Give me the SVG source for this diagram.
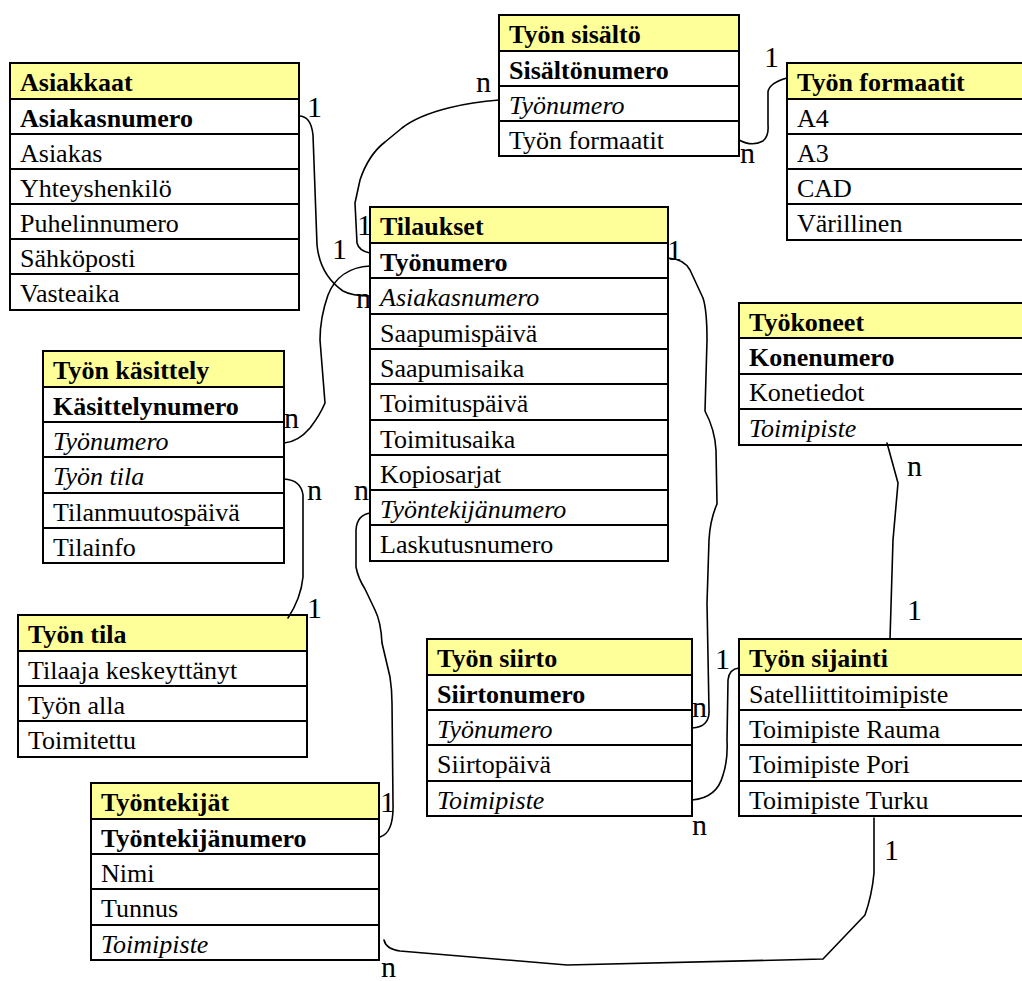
<svg xmlns="http://www.w3.org/2000/svg" width="1022" height="981" viewBox="0 0 1022 981" font-family="'Liberation Serif', Tinos, 'Times New Roman', 'DejaVu Serif', serif">
  <style>
    .hd { fill: #FFFF99; stroke: #000; stroke-width: 2; }
    .rw { fill: #fff; stroke: #000; stroke-width: 2; }
    text { font-family: 'Liberation Serif', Tinos, 'Times New Roman', 'DejaVu Serif', serif; font-size: 26px; fill: #000; }
    .b { font-weight: bold; }
    .i { font-style: italic; }
    .lbl { font-size: 30px; }
    .conn path { fill: none; stroke: #000; stroke-width: 1.6; stroke-linejoin: round; stroke-linecap: round; }
  </style>

  <!-- Asiakkaat -->
  <g id="asiakkaat">
    <rect class="hd" x="10" y="63" width="289" height="36"/>
    <rect class="rw" x="10" y="99" width="289" height="35"/>
    <rect class="rw" x="10" y="134" width="289" height="35"/>
    <rect class="rw" x="10" y="169" width="289" height="35"/>
    <rect class="rw" x="10" y="204" width="289" height="35"/>
    <rect class="rw" x="10" y="239" width="289" height="35"/>
    <rect class="rw" x="10" y="274" width="289" height="36"/>
    <text class="b" x="20" y="91">Asiakkaat</text>
    <text class="b" x="20" y="127">Asiakasnumero</text>
    <text x="20" y="162">Asiakas</text>
    <text x="20" y="197">Yhteyshenkilö</text>
    <text x="20" y="232">Puhelinnumero</text>
    <text x="20" y="267">Sähköposti</text>
    <text x="20" y="302">Vasteaika</text>
  </g>

  <!-- Työn sisältö -->
  <g id="tyon-sisalto">
    <rect class="hd" x="499" y="15" width="240" height="36"/>
    <rect class="rw" x="499" y="51" width="240" height="35"/>
    <rect class="rw" x="499" y="86" width="240" height="35"/>
    <rect class="rw" x="499" y="121" width="240" height="35"/>
    <text class="b" x="509" y="43">Työn sisältö</text>
    <text class="b" x="509" y="79">Sisältönumero</text>
    <text class="i" x="509" y="114">Työnumero</text>
    <text x="509" y="149">Työn formaatit</text>
  </g>

  <!-- Työn formaatit -->
  <g id="tyon-formaatit">
    <rect class="hd" x="787" y="63" width="250" height="36"/>
    <rect class="rw" x="787" y="99" width="250" height="35"/>
    <rect class="rw" x="787" y="134" width="250" height="35"/>
    <rect class="rw" x="787" y="169" width="250" height="35"/>
    <rect class="rw" x="787" y="204" width="250" height="36"/>
    <text class="b" x="797" y="91">Työn formaatit</text>
    <text x="797" y="127">A4</text>
    <text x="797" y="162">A3</text>
    <text x="797" y="197">CAD</text>
    <text x="797" y="232">Värillinen</text>
  </g>

  <!-- Tilaukset -->
  <g id="tilaukset">
    <rect class="hd" x="370" y="207" width="298" height="36"/>
    <rect class="rw" x="370" y="243" width="298" height="35"/>
    <rect class="rw" x="370" y="278" width="298" height="36"/>
    <rect class="rw" x="370" y="314" width="298" height="35"/>
    <rect class="rw" x="370" y="349" width="298" height="35"/>
    <rect class="rw" x="370" y="384" width="298" height="36"/>
    <rect class="rw" x="370" y="420" width="298" height="35"/>
    <rect class="rw" x="370" y="455" width="298" height="35"/>
    <rect class="rw" x="370" y="490" width="298" height="35"/>
    <rect class="rw" x="370" y="525" width="298" height="36"/>
    <text class="b" x="380" y="235">Tilaukset</text>
    <text class="b" x="380" y="271">Työnumero</text>
    <text class="i" x="380" y="306">Asiakasnumero</text>
    <text x="380" y="342">Saapumispäivä</text>
    <text x="380" y="377">Saapumisaika</text>
    <text x="380" y="412">Toimituspäivä</text>
    <text x="380" y="448">Toimitusaika</text>
    <text x="380" y="483">Kopiosarjat</text>
    <text class="i" x="380" y="518">Työntekijänumero</text>
    <text x="380" y="553">Laskutusnumero</text>
  </g>

  <!-- Työkoneet -->
  <g id="tyokoneet">
    <rect class="hd" x="739" y="303" width="300" height="35"/>
    <rect class="rw" x="739" y="338" width="300" height="36"/>
    <rect class="rw" x="739" y="374" width="300" height="35"/>
    <rect class="rw" x="739" y="409" width="300" height="36"/>
    <text class="b" x="749" y="331">Työkoneet</text>
    <text class="b" x="749" y="366">Konenumero</text>
    <text x="749" y="401">Konetiedot</text>
    <text class="i" x="749" y="437">Toimipiste</text>
  </g>

  <!-- Työn käsittely -->
  <g id="tyon-kasittely">
    <rect class="hd" x="43" y="351" width="241" height="36"/>
    <rect class="rw" x="43" y="387" width="241" height="35"/>
    <rect class="rw" x="43" y="422" width="241" height="35"/>
    <rect class="rw" x="43" y="457" width="241" height="36"/>
    <rect class="rw" x="43" y="493" width="241" height="35"/>
    <rect class="rw" x="43" y="528" width="241" height="35"/>
    <text class="b" x="53" y="379">Työn käsittely</text>
    <text class="b" x="53" y="415">Käsittelynumero</text>
    <text class="i" x="53" y="450">Työnumero</text>
    <text class="i" x="53" y="485">Työn tila</text>
    <text x="53" y="521">Tilanmuutospäivä</text>
    <text x="53" y="556">Tilainfo</text>
  </g>

  <!-- Työn tila -->
  <g id="tyon-tila">
    <rect class="hd" x="18" y="615" width="289" height="36"/>
    <rect class="rw" x="18" y="651" width="289" height="35"/>
    <rect class="rw" x="18" y="686" width="289" height="35"/>
    <rect class="rw" x="18" y="721" width="289" height="36"/>
    <text class="b" x="28" y="643">Työn tila</text>
    <text x="28" y="679">Tilaaja keskeyttänyt</text>
    <text x="28" y="714">Työn alla</text>
    <text x="28" y="749">Toimitettu</text>
  </g>

  <!-- Työn siirto -->
  <g id="tyon-siirto">
    <rect class="hd" x="427" y="639" width="265" height="36"/>
    <rect class="rw" x="427" y="675" width="265" height="35"/>
    <rect class="rw" x="427" y="710" width="265" height="35"/>
    <rect class="rw" x="427" y="745" width="265" height="36"/>
    <rect class="rw" x="427" y="781" width="265" height="35"/>
    <text class="b" x="437" y="667">Työn siirto</text>
    <text class="b" x="437" y="703">Siirtonumero</text>
    <text class="i" x="437" y="738">Työnumero</text>
    <text x="437" y="773">Siirtopäivä</text>
    <text class="i" x="437" y="809">Toimipiste</text>
  </g>

  <!-- Työn sijainti -->
  <g id="tyon-sijainti">
    <rect class="hd" x="739" y="639" width="300" height="36"/>
    <rect class="rw" x="739" y="675" width="300" height="35"/>
    <rect class="rw" x="739" y="710" width="300" height="35"/>
    <rect class="rw" x="739" y="745" width="300" height="36"/>
    <rect class="rw" x="739" y="781" width="300" height="35"/>
    <text class="b" x="749" y="667">Työn sijainti</text>
    <text x="749" y="703">Satelliittitoimipiste</text>
    <text x="749" y="738">Toimipiste Rauma</text>
    <text x="749" y="773">Toimipiste Pori</text>
    <text x="749" y="809">Toimipiste Turku</text>
  </g>

  <!-- Työntekijät -->
  <g id="tyontekijat">
    <rect class="hd" x="91" y="783" width="288" height="36"/>
    <rect class="rw" x="91" y="819" width="288" height="35"/>
    <rect class="rw" x="91" y="854" width="288" height="35"/>
    <rect class="rw" x="91" y="889" width="288" height="36"/>
    <rect class="rw" x="91" y="925" width="288" height="35"/>
    <text class="b" x="101" y="811">Työntekijät</text>
    <text class="b" x="101" y="847">Työntekijänumero</text>
    <text x="101" y="882">Nimi</text>
    <text x="101" y="917">Tunnus</text>
    <text class="i" x="101" y="953">Toimipiste</text>
  </g>

  <!-- Relationship lines -->
  <g id="connectors" class="conn">
    <path d="M299,116 Q311,116 313,135 L317,245 Q320,275 343,291 Q352,296 370,296"/>
    <path d="M499,100 C470,102 425,110 402,128 L385,142 C372,152 365,165 360,180 L355,203 L357,243 Q359,251 370,253"/>
    <path d="M370,266 C350,267 335,277 328,295 C322,312 320,325 320,340 L325,403 Q320,415 310,428 Q298,442 284,443"/>
    <path d="M284,479 Q301,480 303,495 L303,577 Q301,598 288,618"/>
    <path d="M370,513 Q357,515 356,530 L356,567 Q358,578 365,589 L375,610 Q381,622 382,643 L390,677 Q392,690 392,703 L393,803 Q394,833 380,837"/>
    <path d="M668,258 Q684,259 690,270 L703,298 Q707,310 707,340 L705,411 Q715,430 716,450 L717,504 Q710,520 709,540 L707,603 L709,710 Q710,727 692,728"/>
    <path d="M692,800 Q717,798 723,775 Q728,760 727,740 L728,680 Q729,669 739,668"/>
    <path d="M887,443 L898,483 L893,540 L890,639"/>
    <path d="M874,818 L874,873 Q872,895 865,915 L823,959 L567,965 L400,951 Q386,949 384,940"/>
    <path d="M739,140 Q752,147 763,141 Q769,136 768,125 L768,92 Q769,83 787,78"/>
  </g>

  <!-- Cardinality labels -->
  <g id="labels">
    <text class="lbl" x="307" y="117">1</text>
    <text class="lbl" x="356" y="308">n</text>
    <text class="lbl" x="476" y="92">n</text>
    <text class="lbl" x="357" y="235">1</text>
    <text class="lbl" x="332" y="259">1</text>
    <text class="lbl" x="667" y="260">1</text>
    <text class="lbl" x="764" y="67">1</text>
    <text class="lbl" x="740" y="163">n</text>
    <text class="lbl" x="284" y="428">n</text>
    <text class="lbl" x="307" y="500">n</text>
    <text class="lbl" x="307" y="618">1</text>
    <text class="lbl" x="354" y="500">n</text>
    <text class="lbl" x="380" y="812">1</text>
    <text class="lbl" x="692" y="717">n</text>
    <text class="lbl" x="715" y="669">1</text>
    <text class="lbl" x="692" y="835">n</text>
    <text class="lbl" x="907" y="476">n</text>
    <text class="lbl" x="907" y="620">1</text>
    <text class="lbl" x="884" y="860">1</text>
    <text class="lbl" x="381" y="977">n</text>
  </g>
</svg>
